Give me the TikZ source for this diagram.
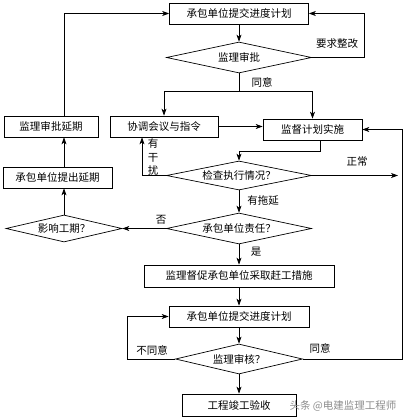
\documentclass[tikz,border=0pt]{standalone}
\usepackage{fontspec}
\setmainfont{Noto Sans CJK SC}
\usetikzlibrary{shapes.geometric,arrows.meta}

\begin{document}
\begin{tikzpicture}[x=1pt,y=-1pt,
  font=\fontsize{10.5}{13}\selectfont,
  box/.style={draw,line width=0.7pt,minimum height=21pt,inner sep=0pt},
  choice/.style={draw,line width=0.7pt,diamond,aspect=4.5,inner sep=0pt},
  arr/.style={line width=0.7pt,-{Stealth[length=7pt,width=5pt,inset=2pt]}},
  lbl/.style={inner sep=0pt}]

\def\colx{239}
\useasboundingbox (0,0) rectangle (405,420);

% main column
\node[box,minimum width=139pt] (plan) at (\colx,13.5) {承包单位提交进度计划};
\node[choice,minimum width=145pt,minimum height=31pt] (approve) at (\colx,57.5) {监理审批};
\node[box,minimum width=99pt] (watch) at (312.5,129.5) {监督计划实施};
\node[choice,minimum width=145pt,minimum height=29pt] (check) at (\colx,175.5) {检查执行情况？};
\node[choice,minimum width=145pt,minimum height=31pt] (duty) at (\colx,228.5) {承包单位责任？};
\node[box,minimum width=190pt,minimum height=22pt] (urge) at (\colx,276) {监理督促承包单位采取赶工措施};
\node[box,minimum width=140pt] (plan2) at (\colx,316.5) {承包单位提交进度计划};
\node[choice,minimum width=127pt,minimum height=30pt] (review) at (\colx,359) {监理审核？};
\node[box,minimum width=114pt,minimum height=22pt] (accept) at (\colx,405) {工程竣工验收};

% left side
\node[box,minimum width=108pt] (meet) at (164,126.5) {协调会议与指令};
\node[box,minimum width=94pt] (delay) at (51,126.5) {监理审批延期};
\node[box,minimum width=109pt] (ask) at (57.5,177.5) {承包单位提出延期};
\node[choice,minimum width=116pt,minimum height=27pt] (affect) at (64,228.5) {影响工期？};

% labels
\node[lbl] (fix) at (337,44) {要求整改};
\node[lbl] (agree) at (262,82) {同意};
\node[lbl,align=center,font=\fontsize{10.5}{13.5}\selectfont] (disturb) at (153,157) {有\\干\\扰};
\node[lbl] (normal) at (357,162) {正常};
\node[lbl] (late) at (263,201) {有拖延};
\node[lbl] (no) at (161,220) {否};
\node[lbl] (yes) at (256,252) {是};
\node[lbl] (refuse) at (152,350) {不同意};
\node[lbl] (agree2) at (320,348) {同意};
\node[lbl,text=black!45] (mark) at (343,406) {头条 @电建监理工程师};

\coordinate (out) at (398,175.5);

% connectors
\draw[arr] (plan) -- (approve);
\draw[arr] (approve.east) -- ++(52,0) |- (plan.east);
\draw (approve.south) -- ++(0,18) coordinate (split);
\draw[arr] (split) -| (meet.north);
\draw[arr] (split) -| (watch.north);
\draw[arr] (meet.east) -- (meet.east -| watch.west);
\draw[arr] (affect.north |- delay.north) |- (plan.west);
\draw[arr] ([xshift=7.5pt]watch.south) -- ++(0,11) -| (check.north);
\draw[arr] (check.east) -- (out);
\draw[arr] (check.west) -| ([xshift=-22pt]meet.south);
\draw[arr] (check) -- (duty);
\draw[arr] (duty.west) -- (affect.east);
\draw[arr] (affect.north) -- (affect.north |- ask.south);
\draw[arr] (affect.north |- ask.north) -- (affect.north |- delay.south);
\draw[arr] (duty) -- (urge);
\draw[arr] (urge) -- (plan2);
\draw[arr] (plan2) -- (review);
\draw[arr] (review.west) -- ++(-48,0) |- (plan2.west);
\draw[arr] (review.east) -| ([xshift=40pt]watch.east) -- (watch.east);
\draw[arr] (review) -- (accept);

\end{tikzpicture}
\end{document}
